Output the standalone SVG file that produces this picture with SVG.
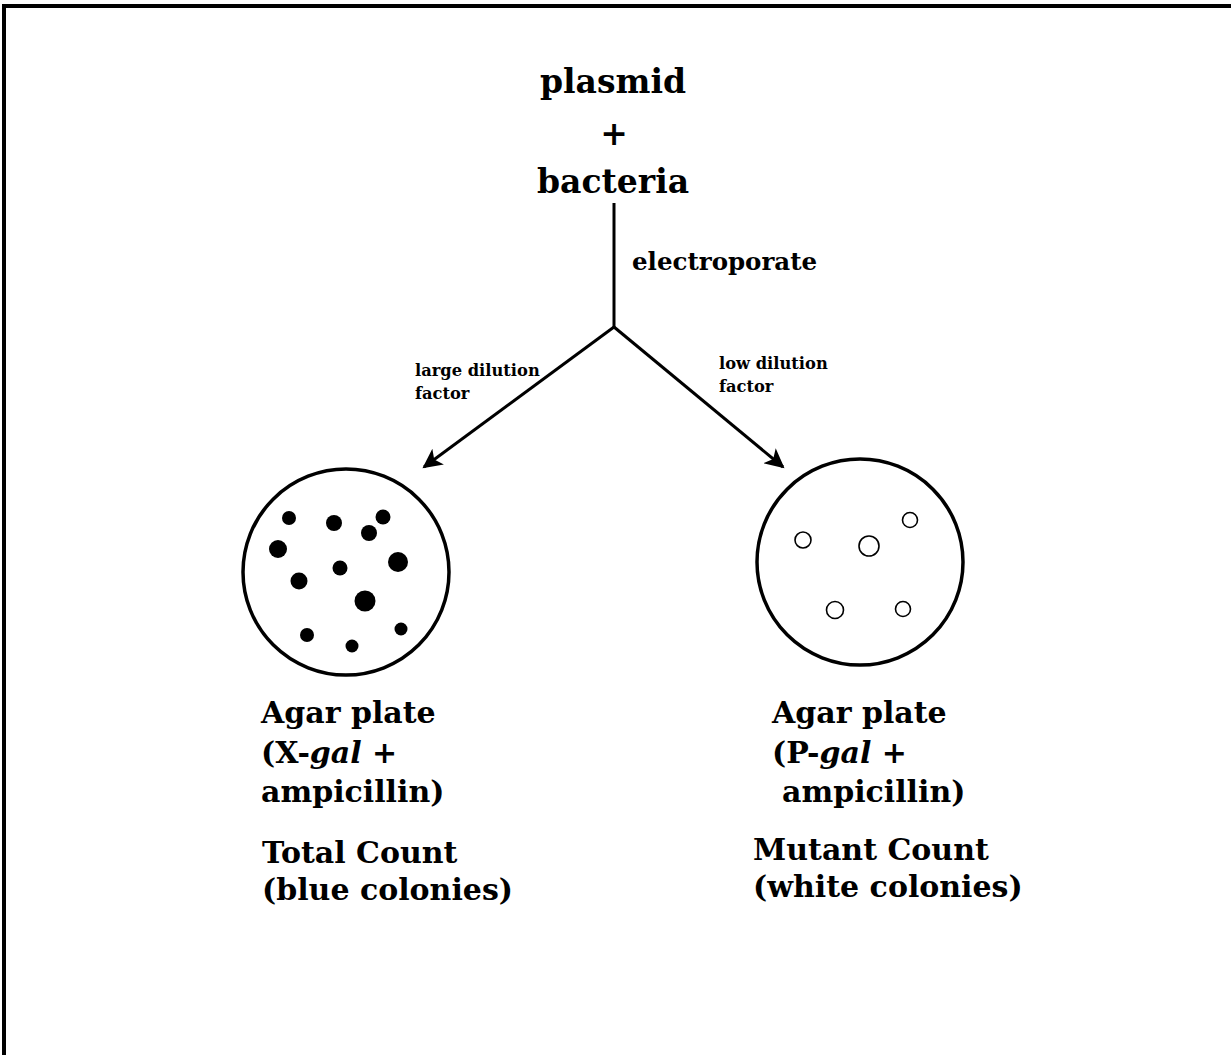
<svg xmlns="http://www.w3.org/2000/svg" width="1231" height="1055" viewBox="0 0 1231 1055">
<style>
text{font-family:"DejaVu Serif","Liberation Serif",serif;font-weight:bold;fill:#000}
.big{font-size:33px}
.mid{font-size:24.5px}
.sm{font-size:16.3px}
.lab{font-size:30px}
.plate{fill:none;stroke:#000;stroke-width:3.5}
.blue{fill:#000}
.white{fill:none;stroke:#000;stroke-width:1.6}
.edge{stroke:#000;stroke-width:3;fill:none}
</style>
<defs>
<marker id="ah" viewBox="0 0 10 10" refX="9" refY="5" markerWidth="7.5" markerHeight="6.5" markerUnits="strokeWidth" orient="auto">
<path d="M0,0 L10,5 L0,10 L2.5,5 z" fill="#000"/>
</marker>
</defs>
<rect width="1231" height="1055" fill="#fff"/>
<path d="M4,1055 V6 H1231" stroke="#000" stroke-width="4" fill="none"/>
<g id="source">
<text class="big" x="613" y="93" text-anchor="middle">plasmid</text>
<text class="big" x="614" y="145" text-anchor="middle">+</text>
<text class="big" x="613" y="193" text-anchor="middle">bacteria</text>
</g>
<g id="connectors">
<path class="edge" d="M614,203 V327"/>
<path class="edge" d="M614,327 L424,467" marker-end="url(#ah)"/>
<path class="edge" d="M614,327 L783,467" marker-end="url(#ah)"/>
<text class="mid" x="632" y="270">electroporate</text>
<text class="sm" x="415" y="376">large dilution</text>
<text class="sm" x="415" y="399">factor</text>
<text class="sm" x="719" y="369">low dilution</text>
<text class="sm" x="719" y="392">factor</text>
</g>
<g id="plate-left">
<circle class="plate" cx="346" cy="572" r="103"/>
<circle class="blue" cx="289" cy="518" r="7"/>
<circle class="blue" cx="334" cy="523" r="8"/>
<circle class="blue" cx="383" cy="517" r="7.5"/>
<circle class="blue" cx="369" cy="533" r="8"/>
<circle class="blue" cx="278" cy="549" r="9"/>
<circle class="blue" cx="340" cy="568" r="7.5"/>
<circle class="blue" cx="398" cy="562" r="10"/>
<circle class="blue" cx="299" cy="581" r="8.5"/>
<circle class="blue" cx="365" cy="601" r="10.5"/>
<circle class="blue" cx="307" cy="635" r="7"/>
<circle class="blue" cx="401" cy="629" r="6.5"/>
<circle class="blue" cx="352" cy="646" r="6.5"/>
</g>
<g id="plate-right">
<circle class="plate" cx="860" cy="562" r="103"/>
<circle class="white" cx="803" cy="540" r="8"/>
<circle class="white" cx="869" cy="546" r="10"/>
<circle class="white" cx="910" cy="520" r="7.5"/>
<circle class="white" cx="835" cy="610" r="8.5"/>
<circle class="white" cx="903" cy="609" r="7.5"/>
</g>
<g id="label-left">
<text class="lab" x="261" y="723">Agar plate</text>
<text class="lab" x="261" y="763">(X-<tspan font-style="italic">gal</tspan> +</text>
<text class="lab" x="261" y="802">ampicillin)</text>
<text class="lab" x="262" y="863">Total Count</text>
<text class="lab" x="262" y="900">(blue colonies)</text>
</g>
<g id="label-right">
<text class="lab" x="772" y="723">Agar plate</text>
<text class="lab" x="772" y="763">(P-<tspan font-style="italic">gal</tspan> +</text>
<text class="lab" x="782" y="802">ampicillin)</text>
<text class="lab" x="753" y="860">Mutant Count</text>
<text class="lab" x="753" y="897">(white colonies)</text>
</g>
</svg>
